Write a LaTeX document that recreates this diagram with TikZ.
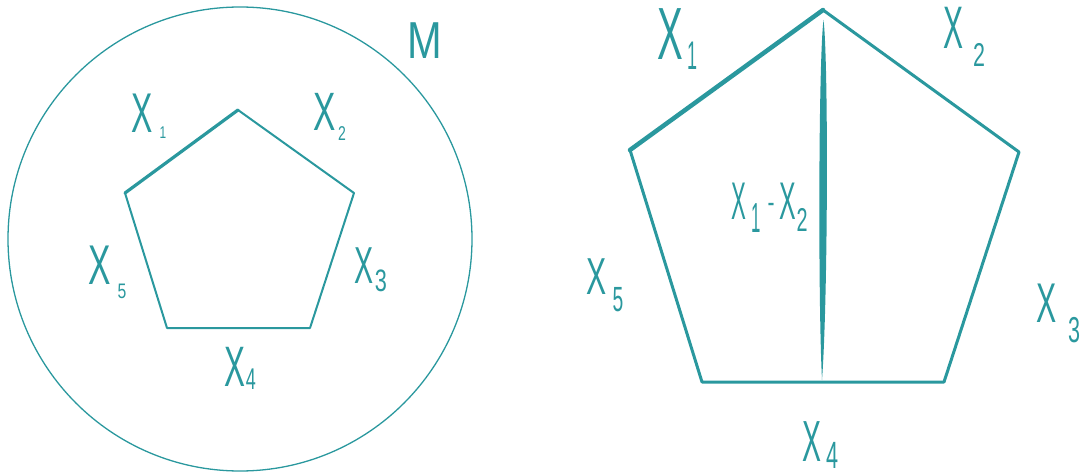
\documentclass[tikz,border=0pt]{standalone}
\usepackage{fontspec}
\usepackage{graphicx}
\setmainfont{Liberation Sans}
\definecolor{teal1}{HTML}{2A989E}
\newcommand{\gl}[3]{\scalebox{#2}[1]{\fontsize{#1}{#1}\selectfont #3}}
\tikzset{
  lbl/.style={inner sep=0pt, text=teal1},
  edge/.style={draw=teal1, line width=#1, line cap=round, line join=round},
  edge/.default=2pt
}
\begin{document}
\begin{tikzpicture}[x=1pt,y=-1pt]
\useasboundingbox (0,0) rectangle (1085,476);
% ---------- left figure ----------
\draw[teal1, line width=1.3pt] (240,239) circle (232);
\coordinate (a1) at (238,110);
\coordinate (a2) at (354,193);
\coordinate (a3) at (310,328);
\coordinate (a4) at (167,328);
\coordinate (a5) at (125,193);
\draw[edge=2pt] (a1) -- (a2) -- (a3) -- (a4) -- (a5);
\draw[edge=3.2pt] (a5) -- (a1);
\node[lbl] (M) at (425,41) {\gl{52}{0.8}{M}};
\node[lbl] (l1) at (142,113) {\gl{56}{0.57}{X}};
\node[lbl] (l1s) at (163,133) {\gl{17}{0.7}{1}};
\node[lbl] (l2) at (325,112) {\gl{54}{0.62}{X}};
\node[lbl] (l2s) at (342,134) {\gl{20}{0.7}{2}};
\node[lbl] (l3) at (364,266) {\gl{52}{0.55}{X}};
\node[lbl] (l3s) at (381,281) {\gl{31}{0.7}{3}};
\node[lbl] (l4) at (235,367) {\gl{57}{0.55}{X}};
\node[lbl] (l4s) at (251,379) {\gl{30}{0.6}{4}};
\node[lbl] (l5) at (100,265) {\gl{56}{0.6}{X}};
\node[lbl] (l5s) at (122,291) {\gl{21}{0.75}{5}};
% ---------- right figure ----------
\coordinate (b1) at (823,10);
\coordinate (b2) at (1019,152);
\coordinate (b3) at (944,382);
\coordinate (b4) at (702,382);
\coordinate (b5) at (630,150);
\draw[edge=3pt] (b1) -- (b2) -- (b3) -- (b4) -- (b5);
\draw[edge=4.5pt] (b5) -- (b1);
\coordinate (vt) at (823.5,20);
\coordinate (vb) at (822,380);
\fill[teal1] (vt) .. controls (828.5,60) and (828,300) .. (vb)
  .. controls (818,300) and (818.5,60) .. (vt);
\node[lbl] (r1) at (670,34) {\gl{74}{0.52}{X}};
\node[lbl] (r1s) at (692,56) {\gl{40}{0.45}{1}};
\node[lbl] (r2) at (953,28) {\gl{60}{0.5}{X}};
\node[lbl] (r2s) at (979,55) {\gl{33}{0.65}{2}};
\node[lbl] (r3) at (1047,303) {\gl{56}{0.54}{X}};
\node[lbl] (r3s) at (1074,330) {\gl{36}{0.6}{3}};
\node[lbl] (r4) at (812,442) {\gl{58}{0.49}{X}};
\node[lbl] (r4s) at (833,455) {\gl{38}{0.57}{4}};
\node[lbl] (r5) at (597,277) {\gl{52}{0.58}{X}};
\node[lbl] (r5s) at (618,300) {\gl{35}{0.55}{5}};
\node[lbl] (d1) at (739,201) {\gl{53}{0.42}{X}};
\node[lbl] (d1s) at (756,218) {\gl{42}{0.4}{1}};
\node[lbl] (dm) at (771,208) {\gl{30}{0.7}{-}};
\node[lbl] (d2) at (788,201) {\gl{53}{0.47}{X}};
\node[lbl] (d2s) at (802,220) {\gl{33}{0.6}{2}};
\end{tikzpicture}
\end{document}
